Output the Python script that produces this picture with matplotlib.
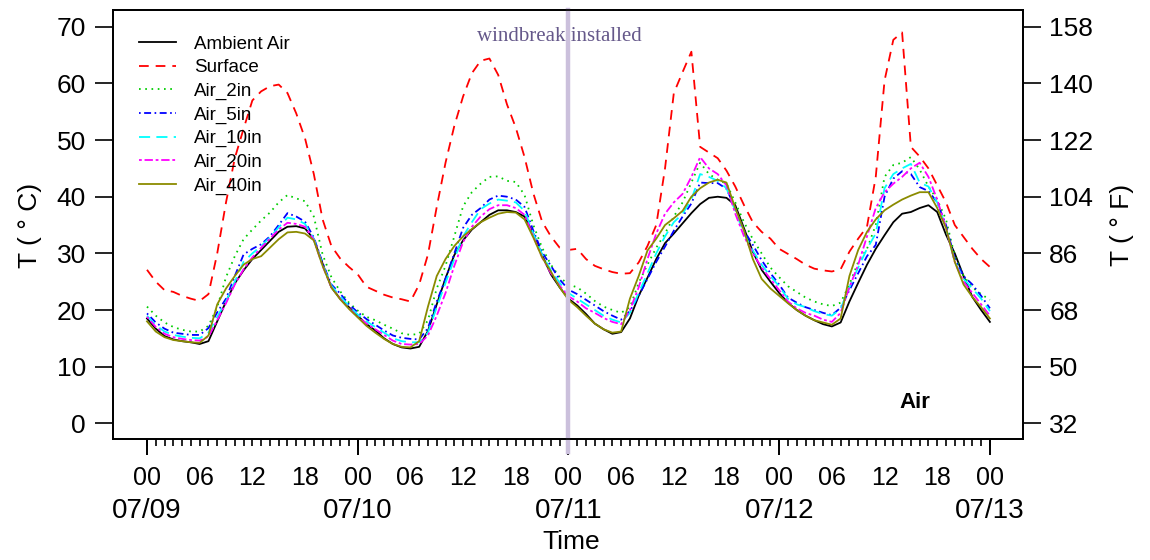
import numpy as np
import matplotlib
matplotlib.use("Agg")
import matplotlib.pyplot as plt

plt.rcParams['font.family'] = ['Liberation Sans', 'DejaVu Sans']
plt.rcParams['lines.scale_dashes'] = False

# hourly readings, 07/09 00:00 -> 07/13 00:00
hours = np.arange(0, 97)

ambient = [18.5, 16.7, 15.4, 14.8, 14.5, 14.3, 14.0, 14.5, 18.0, 21.5, 24.7, 27.0, 29.0, 30.6, 32.2, 33.8, 34.7, 34.8, 34.4, 32.5, 28.2, 24.0, 22.0, 20.5,
           19.0, 17.5, 16.4, 15.0, 14.0, 13.4, 13.2, 13.5, 16.3, 21.0, 25.6, 29.7, 32.3, 34.2, 35.5, 36.8, 37.6, 37.6, 37.3, 36.5, 33.5, 29.7, 26.3, 24.0,
           22.0, 20.8, 19.3, 17.6, 16.6, 15.8, 16.1, 18.5, 22.5, 25.7, 29.0, 31.8, 33.5, 35.3, 37.1, 38.7, 39.8, 40.0, 39.8, 38.5, 34.4, 30.3, 27.1, 25.0,
           23.0, 21.3, 20.0, 19.0, 18.2, 17.5, 17.1, 17.8, 21.5, 24.8, 28.0, 30.8, 33.2, 35.5, 37.0, 37.3, 38.0, 38.5, 37.3, 33.3, 30.0, 26.0, 22.3, 20.0, 17.9]

surface = [27.1, 25.0, 23.5, 23.2, 22.5, 22.0, 21.6, 22.8, 30.0, 39.0, 46.8, 52.0, 57.0, 58.6, 59.5, 59.8, 58.3, 54.7, 50.3, 44.0, 36.0, 31.3, 29.1, 27.6,
           26.3, 24.1, 23.4, 22.7, 22.2, 21.9, 21.5, 24.5, 29.8, 38.2, 46.0, 52.5, 57.7, 61.8, 64.0, 64.4, 61.5, 56.3, 52.2, 47.0, 40.6, 35.6, 33.0, 31.0,
           30.6, 30.8, 29.0, 27.8, 27.2, 26.7, 26.4, 26.5, 28.4, 31.3, 35.0, 45.0, 58.3, 62.0, 65.6, 48.8, 47.8, 46.8, 44.6, 41.8, 38.5, 35.5, 33.8, 32.6,
           30.8, 29.9, 29.0, 28.0, 27.3, 27.0, 26.8, 27.2, 30.3, 32.6, 34.7, 43.5, 60.5, 67.7, 69.0, 48.8, 47.1, 45.0, 42.0, 39.0, 35.0, 32.9, 30.8, 29.0, 27.6]

air_2in = [20.6, 19.0, 17.8, 17.0, 16.5, 16.2, 16.2, 17.2, 20.5, 25.8, 29.5, 32.5, 34.2, 35.8, 37.2, 39.0, 40.3, 39.7, 39.2, 36.5, 29.8, 25.8, 23.3, 21.3,
           19.9, 18.8, 18.2, 17.4, 16.7, 15.9, 15.6, 15.8, 18.2, 23.8, 27.8, 33.0, 38.3, 40.8, 42.3, 43.5, 43.6, 42.8, 42.6, 40.3, 35.0, 31.0, 28.0, 25.8,
           24.5, 24.0, 22.9, 21.6, 20.6, 20.0, 19.5, 20.5, 24.8, 28.0, 31.0, 33.5, 36.5, 39.0, 42.5, 46.0, 44.0, 43.0, 42.3, 39.0, 35.5, 32.5, 30.0, 27.5,
           25.8, 24.2, 23.2, 22.2, 21.5, 21.0, 20.7, 21.3, 24.5, 28.5, 30.8, 35.0, 43.5, 45.6, 46.0, 47.0, 44.8, 41.8, 39.5, 36.0, 29.5, 26.0, 24.0, 22.8, 21.8]

air_5in = [19.4, 17.8, 16.7, 16.0, 15.8, 15.6, 15.6, 16.8, 19.6, 22.0, 26.0, 29.8, 30.8, 31.6, 33.0, 35.0, 37.1, 36.5, 35.6, 32.8, 28.3, 24.5, 22.9, 21.0,
           19.6, 18.4, 17.4, 16.4, 15.5, 15.1, 14.9, 14.8, 16.8, 21.5, 25.5, 30.0, 34.5, 36.8, 38.0, 39.5, 40.2, 40.0, 39.5, 38.2, 34.0, 30.2, 27.8, 25.4,
           23.6, 22.8, 21.8, 20.8, 19.8, 19.0, 18.3, 19.8, 22.5, 25.5, 28.5, 31.2, 34.0, 36.5, 38.8, 42.5, 42.4, 42.4, 41.4, 38.0, 34.0, 31.5, 28.8, 26.5,
           24.5, 22.2, 21.3, 20.5, 20.0, 19.5, 19.1, 20.4, 23.5, 26.5, 29.5, 31.5, 40.0, 43.2, 44.5, 44.0, 41.7, 41.0, 39.0, 35.0, 29.0, 26.0, 24.5, 22.5, 20.3]

air_10in = [19.0, 17.3, 16.2, 15.6, 15.3, 15.1, 15.0, 16.0, 18.8, 21.5, 25.0, 28.5, 30.0, 31.3, 32.8, 34.6, 36.3, 36.0, 35.2, 32.6, 28.0, 24.3, 22.4, 20.7,
            19.2, 18.0, 17.0, 16.0, 15.0, 14.5, 14.3, 14.3, 16.0, 20.5, 24.8, 29.0, 33.0, 35.5, 37.8, 38.8, 39.5, 39.3, 39.0, 37.5, 33.5, 29.8, 27.0, 24.8,
            23.0, 22.0, 21.0, 20.0, 19.0, 18.3, 17.8, 19.5, 23.0, 26.5, 30.0, 33.0, 35.5, 37.0, 39.5, 44.0, 43.5, 42.8, 41.5, 37.5, 33.5, 30.5, 28.0, 26.0,
            24.2, 22.0, 21.0, 20.5, 19.8, 19.3, 19.0, 20.2, 24.0, 27.5, 30.8, 33.5, 41.5, 44.0, 45.0, 45.8, 42.5, 41.8, 39.0, 34.5, 28.5, 25.5, 23.8, 22.0, 19.8]

air_20in = [18.8, 17.0, 15.8, 15.2, 14.9, 14.7, 14.6, 15.3, 18.2, 21.2, 24.5, 27.2, 29.3, 31.0, 32.6, 34.2, 35.4, 35.2, 34.7, 32.4, 27.8, 24.0, 22.0, 20.3,
            18.8, 17.6, 16.6, 15.6, 14.6, 14.0, 13.9, 14.0, 15.5, 19.0, 23.0, 27.8, 32.0, 34.7, 36.5, 37.8, 38.5, 38.5, 38.0, 36.8, 33.0, 29.3, 26.5, 24.3,
            22.4, 21.5, 20.3, 19.5, 18.6, 17.9, 17.5, 20.0, 24.0, 29.0, 33.5, 37.0, 39.0, 40.5, 43.5, 47.0, 45.0, 44.0, 42.0, 37.0, 33.0, 30.0, 27.5, 25.5,
            23.5, 21.5, 20.3, 19.5, 19.0, 18.3, 17.9, 19.5, 24.0, 28.0, 33.0, 38.0, 40.8, 42.3, 43.5, 45.0, 46.0, 43.5, 39.5, 34.5, 28.5, 25.0, 23.0, 21.0, 19.0]

air_40in = [18.0, 16.2, 15.2, 14.7, 14.5, 14.3, 14.2, 15.5, 21.0, 23.8, 26.0, 28.0, 29.0, 29.5, 31.0, 32.5, 33.7, 33.8, 33.5, 32.3, 27.8, 24.0, 21.9, 20.2,
            18.7, 17.2, 16.0, 14.9, 14.0, 13.5, 13.4, 14.5, 20.6, 26.0, 29.0, 31.3, 33.0, 34.3, 35.5, 36.3, 37.0, 37.3, 37.2, 36.0, 32.8, 29.3, 26.8, 24.0,
            21.8, 20.5, 19.0, 17.6, 16.6, 16.0, 16.2, 22.0, 26.0, 30.5, 32.6, 35.0, 36.2, 37.5, 40.0, 41.5, 42.5, 43.0, 42.5, 38.0, 34.0, 29.0, 25.5, 23.8,
            22.5, 21.2, 20.0, 19.0, 18.2, 17.8, 17.4, 18.5, 26.0, 30.6, 33.8, 36.0, 37.6, 38.6, 39.5, 40.2, 40.8, 40.8, 38.0, 34.5, 28.5, 24.5, 22.3, 20.5, 18.5]

series_names = ['Ambient Air', 'Surface', 'Air_2in', 'Air_5in', 'Air_10in', 'Air_20in', 'Air_40in']
day_labels = ['07/09', '07/10', '07/11', '07/12', '07/13']
windbreak_hour = 48

# R-like line types (in points)
styles = [
    ('black', (None, None)),
    ('#FF0000', (0, (7, 5))),
    ('#00CD00', (0, (1.2, 3.3))),
    ('#0000FF', (0, (1.2, 2.5, 5, 2.5))),
    ('#00FFFF', (0, (8, 4.5))),
    ('#FF00FF', (0, (2, 2, 6, 2))),
    ('#8B8B00', (None, None)),
]

fig = plt.figure(figsize=(11.5, 5.6), dpi=100)
ax = fig.add_axes([0.0985, 0.2161, 0.7913, 0.7661])

data = [ambient, surface, air_2in, air_5in, air_10in, air_20in, air_40in]
for name, vals, (col, ls) in zip(series_names, data, styles):
    if ls[0] is None:
        ax.plot(hours, vals, color=col, lw=1.3, label=name)
    else:
        ax.plot(hours, vals, color=col, lw=1.3, linestyle=ls, label=name)

ax.set_xlim(-3.84, 99.8)
ax.set_ylim(-2.77, 72.97)

# windbreak marker
ax.axvline(windbreak_hour, ymin=-0.03, ymax=1, color='#CBC0DC', lw=3.2, clip_on=False, zorder=5)
ax.text(windbreak_hour - 1.0, 68.2, 'windbreak installed', ha='center', va='center',
        family=['Liberation Serif', 'DejaVu Serif'], fontsize=15, color='#65588A', zorder=6)

ax.text(0.881, 0.084, 'Air', transform=ax.transAxes, ha='center', va='center',
        fontsize=16, fontweight='bold')

# spines / left ticks
for sp in ax.spines.values():
    sp.set_linewidth(1.3)
ax.set_yticks(range(0, 71, 10))
ax.tick_params(axis='y', length=12.7, width=1.2, labelsize=19, pad=7)

# x axis: hourly minor ticks, 6-hourly labels, long ticks + dates at midnight
ax.set_xticks(hours, minor=True)
six = list(range(0, 97, 6))
ax.set_xticks(six)
ax.set_xticklabels([f"{h % 24:02d}" for h in six])
ax.tick_params(axis='x', which='both', length=4.8, width=1.2, labelsize=18, pad=15)

sec = ax.secondary_xaxis('bottom')
sec.spines['bottom'].set_visible(False)
sec.set_xticks(range(0, 97, 24))
sec.set_xticklabels(day_labels)
sec.tick_params(axis='x', length=11.5, width=1.4, labelsize=20, pad=31)

# right axis in Fahrenheit
axr = ax.twinx()
lo, hi = ax.get_ylim()
axr.set_ylim(lo * 1.8 + 32, hi * 1.8 + 32)
axr.set_yticks(range(32, 159, 18))
axr.tick_params(axis='y', length=12.7, width=1.2, labelsize=19, pad=6)
for sp in axr.spines.values():
    sp.set_linewidth(1.3)

fig.text(30 / 1150, 1 - 225 / 560, 'T ( \u00b0 C)', rotation=90, ha='center', va='center', fontsize=19)
fig.text(1122 / 1150, 1 - 225 / 560, 'T ( \u00b0 F)', rotation=90, ha='center', va='center', fontsize=19)
fig.text(571 / 1150, 1 - 542 / 560, 'Time', ha='center', va='center', fontsize=19)

ax.legend(loc='upper left', bbox_to_anchor=(0.0286, 0.94), frameon=False, fontsize=13.5,
          handlelength=1.95, handletextpad=0.95, labelspacing=0.34, borderpad=0, borderaxespad=0)

fig.savefig('out.png', dpi=100)
